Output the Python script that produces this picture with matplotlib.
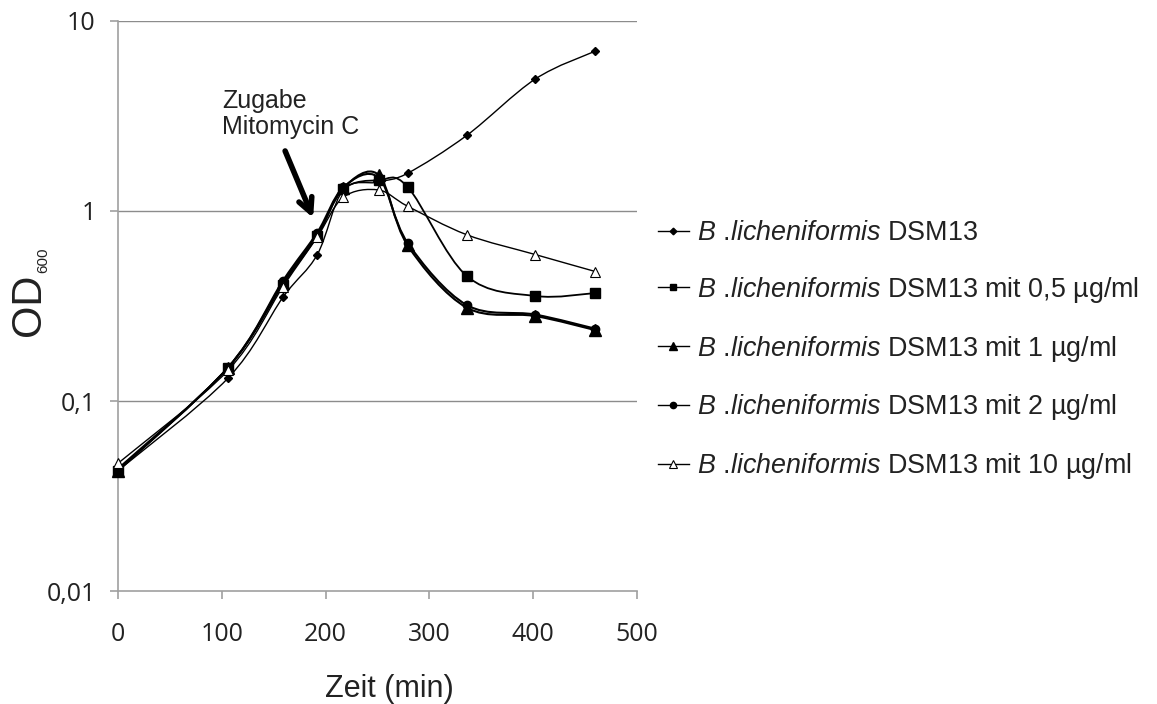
import matplotlib
matplotlib.use("Agg")
import matplotlib.pyplot as plt
import numpy as np
from matplotlib.path import Path
from matplotlib.patches import PathPatch
from matplotlib.lines import Line2D

plt.rcParams['mathtext.fontset'] = 'custom'
plt.rcParams['mathtext.it'] = 'Liberation Sans:italic'
plt.rcParams['mathtext.rm'] = 'Liberation Sans'

# ---- data ----
time_min = [0, 106, 159, 192, 217, 251, 279, 336, 402, 460]
od_control = [0.043, 0.132, 0.352, 0.59, 1.29, 1.42, 1.58, 2.5, 4.95, 6.95]
od_05 = [0.043, 0.150, 0.41, 0.74, 1.30, 1.45, 1.34, 0.455, 0.357, 0.37]
od_1 = [0.043, 0.150, 0.42, 0.75, 1.32, 1.55, 0.66, 0.31, 0.28, 0.236]
od_2 = [0.044, 0.150, 0.43, 0.77, 1.33, 1.50, 0.68, 0.32, 0.285, 0.24]
od_10 = [0.047, 0.145, 0.40, 0.73, 1.18, 1.29, 1.06, 0.75, 0.59, 0.48]

species = r"$\mathit{B\ .\!licheniformis}$"
series_labels = [
    species + " DSM13",
    species + " DSM13 mit 0,5 µg/ml",
    species + " DSM13 mit 1 µg/ml",
    species + " DSM13 mit 2 µg/ml",
    species + " DSM13 mit 10 µg/ml",
]
x_ticks = [0, 100, 200, 300, 400, 500]
y_ticks = [0.01, 0.1, 1, 10]
y_ticklabels = ["0,01", "0,1", "1", "10"]

series = [od_control, od_05, od_1, od_2, od_10]
styles = [
    dict(marker='D', ms=4.5, mfc='black', mec='black', lw=1.0),
    dict(marker='s', ms=6.5, mfc='black', mec='black', lw=1.3),
    dict(marker='^', ms=8.5, mfc='black', mec='black', lw=1.5),
    dict(marker='o', ms=6, mfc='black', mec='black', lw=1.5),
    dict(marker='^', ms=7.5, mfc='white', mec='black', mew=0.8, lw=1.0),
]


def smooth_path(x, y):
    """Excel-like smoothed line: cubic Bezier (Catmull-Rom) in x / log10(y) space."""
    x = np.asarray(x, float)
    ly = np.log10(np.asarray(y, float))
    pts = np.column_stack([x, ly])
    n = len(pts)
    verts = [pts[0]]
    codes = [Path.MOVETO]
    for i in range(n - 1):
        p0 = pts[i - 1] if i > 0 else pts[i]
        p1 = pts[i]
        p2 = pts[i + 1]
        p3 = pts[i + 2] if i + 2 < n else pts[i + 1]
        c1 = p1 + (p2 - p0) / 6.0
        c2 = p2 - (p3 - p1) / 6.0
        verts += [c1, c2, p2]
        codes += [Path.CURVE4] * 3
    verts = np.array(verts)
    verts[:, 1] = 10 ** verts[:, 1]
    return Path(verts, codes)


fig = plt.figure(figsize=(11.57, 7.04), dpi=100)
ax = fig.add_axes([118 / 1157, 1 - 591 / 704, (637 - 118) / 1157, (591 - 21) / 704])
ax.set_yscale('log')
ax.set_xlim(0, 500)
ax.set_ylim(0.01, 10)

handles = []
for i, (vals, st) in enumerate(zip(series, styles)):
    patch = PathPatch(smooth_path(time_min, vals), fill=False, edgecolor='black',
                      lw=st['lw'], transform=ax.transData, zorder=2 + i, clip_on=False)
    ax.add_patch(patch)
    ax.plot(time_min, vals, linestyle='none', marker=st['marker'], ms=st['ms'],
            mfc=st['mfc'], mec=st['mec'], mew=st.get('mew', 1.0), zorder=2.5 + i,
            clip_on=False)
    handles.append(Line2D([], [], color='black', lw=1.0, marker=st['marker'],
                          ms=st['ms'] * 0.75, mfc=st['mfc'], mec=st['mec'],
                          mew=st.get('mew', 1.0)))

# grid / axes
grid_c = '#8c8c8c'
for v in [0.1, 1, 10]:
    ax.axhline(v, color=grid_c, lw=1.0, zorder=1)
for s in ['top', 'right']:
    ax.spines[s].set_visible(False)
for s in ['left', 'bottom']:
    ax.spines[s].set_color('#a0a0a0')
    ax.spines[s].set_linewidth(1.2)
ax.set_xticks(x_ticks)
ax.set_xticklabels([str(t) for t in x_ticks])
ax.set_yticks(y_ticks)
ax.set_yticklabels(y_ticklabels)
ax.yaxis.set_minor_locator(matplotlib.ticker.NullLocator())
ax.tick_params(axis='both', which='major', length=6, width=1.2, color='#a0a0a0',
               labelsize=18)
for lab in ax.get_xticklabels() + ax.get_yticklabels():
    lab.set_fontfamily('Open Sans')
    lab.set_color('#222222')
ax.tick_params(axis='x', pad=16)
ax.tick_params(axis='y', pad=10)

ax.set_xlabel("Zeit (min)", fontsize=22, fontfamily='Liberation Sans', color='#222222')
ax.xaxis.set_label_coords((389 - 118) / (637 - 118), -(689 - 591) / (591 - 21))
ax.xaxis.label.set_va('center')

# y label OD600 (subscript drawn as separate, smaller text)
fig.text(29 / 1157, 1 - 305 / 704, "OD", rotation=90, fontsize=30,
         fontfamily='Liberation Sans', color='#222222', ha='center', va='center')
fig.text(43 / 1157, 1 - 260 / 704, "600", rotation=90, fontsize=11,
         fontfamily='Liberation Sans', color='#222222', ha='center', va='center')

# annotation
ax.text(100, 10 ** ((211 - 101) / 190), "Zugabe", fontsize=18,
        fontfamily='Liberation Sans', color='#222222', ha='left', va='center')
ax.text(100, 10 ** ((211 - 127) / 190), "Mitomycin C", fontsize=18,
        fontfamily='Liberation Sans', color='#222222', ha='left', va='center')
ax.annotate("", xy=(188, 0.92), xytext=(161, 2.07),
            arrowprops=dict(arrowstyle='->,head_length=1.0,head_width=0.5',
                            lw=4, color='black', shrinkA=0, shrinkB=0))

leg = fig.legend(handles, series_labels, loc='upper left',
                 bbox_to_anchor=(658 / 1157, 1 - 220 / 704), frameon=False,
                 borderaxespad=0, borderpad=0,
                 prop={'family': 'Liberation Sans', 'size': 19.4},
                 handlelength=1.15, handletextpad=0.3, labelspacing=1.07)
for t in leg.get_texts():
    t.set_color('#222222')

fig.savefig("out.png", dpi=100)
